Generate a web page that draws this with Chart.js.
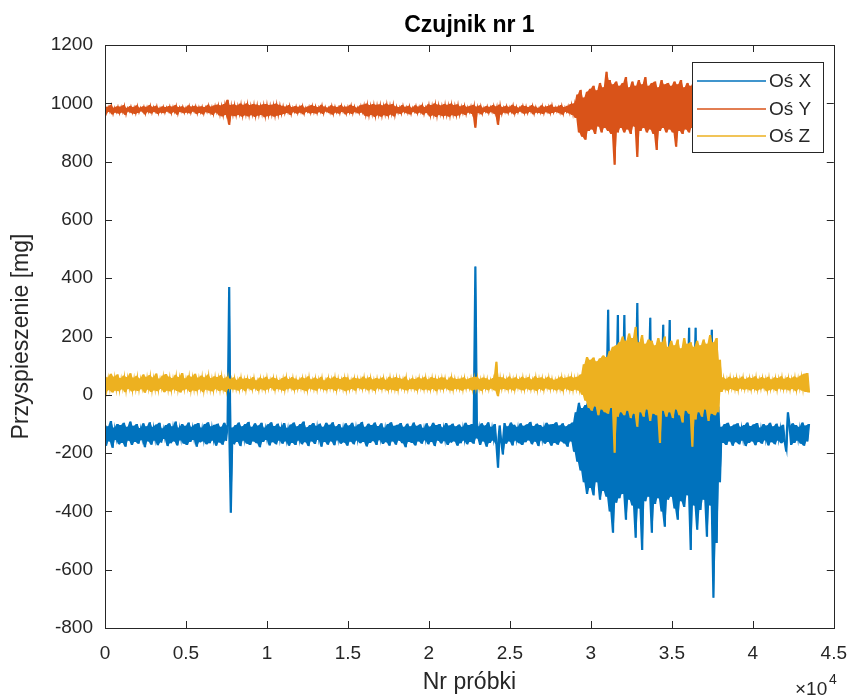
<!DOCTYPE html>
<html lang="pl">
<head>
    <meta charset="UTF-8">
    <title>Czujnik nr 1</title>
    <script src="https://cdn.jsdelivr.net/npm/chart.js"></script>
    <style>
        html, body { margin: 0; padding: 0; background: #fff; }
        #czujnik { display: block; }
    </style>
</head>
<body>
    <canvas id="czujnik" width="861" height="700"></canvas>
    <script>
    // numer próbki co 100 próbek, 0 .. 43500
    const krok = 100;
    const liczbaProbek = 436;

    // Oś X (niebieska)
    const osX = [
        -95,-175,-108,-160,-90,-182,-112,-155,-100,-170,
        -104,-165,-96,-178,-110,-158,-92,-172,-106,-162,
        -100,-168,-114,-156,-98,-180,-108,-160,-94,-171,
        -110,-158,-102,-173,-96,-164,-115,-152,-104,-176,
        -98,-166,-108,-160,-92,-174,-112,-157,-100,-168,
        -106,-172,-95,-162,-110,-155,-101,-178,-97,-163,
        -112,-160,-100,-170,-94,-166,-108,-158,-103,-175,
        -99,-164,-110,-171,-96,-158,-105,370,-405,-112,
        -170,-104,-162,-95,-176,-108,-158,-100,-168,-93,
        -172,-110,-160,-98,-166,-105,-180,-96,-162,-112,
        -155,-101,-174,-94,-163,-107,-170,-99,-158,-110,
        -168,-97,-160,-113,-175,-102,-165,-95,-172,-108,
        -158,-100,-170,-92,-163,-111,-176,-104,-160,-97,
        -169,-106,-155,-99,-178,-110,-162,-96,-171,-103,
        -160,-94,-173,-108,-157,-100,-168,-112,-164,-98,
        -175,-105,-161,-96,-170,-109,-158,-101,-166,-93,
        -162,-110,-177,-99,-165,-104,-159,-95,-172,-107,
        -156,-98,-169,-112,-163,-100,-175,-94,-160,-106,
        -171,-103,-158,-97,-166,-110,-180,-99,-162,-108,
        -165,-95,-174,-106,-160,-101,-168,-113,-157,-98,
        -170,-109,-162,-96,-176,-104,-158,-100,-167,-111,
        -159,-97,-172,-105,-164,-99,-160,-108,-175,-102,
        -166,-110,-158,-96,-170,-104,-162,-100,-168,440,
        -150,-108,-172,-98,-160,-105,-178,-94,-165,-110,
        -158,-100,-170,-250,-105,-163,-205,-97,-168,-108,
        -160,-95,-174,-103,-158,-110,-166,-98,-172,-106,
        -163,-101,-157,-93,-170,-107,-161,-99,-176,-104,
        -158,-110,-168,-96,-162,-102,-175,-100,-165,-94,
        -171,-105,-160,-98,-167,-108,-178,-101,-160,-95,
        -195,-60,-230,-27,-260,-45,-300,-35,-340,-20,
        -320,-15,-345,-30,-300,-10,-360,-25,-330,-5,
        -350,292,-400,-5,-473,-20,-370,274,-355,-15,
        -340,274,-429,-10,-360,60,-380,-5,-490,315,
        -390,0,-532,-15,-365,40,-350,264,-473,-10,
        -375,80,-355,-20,-400,240,-453,-5,-360,257,
        -350,-15,-390,30,-429,-10,-365,-25,-385,0,
        -345,230,-532,-20,-380,230,-463,-10,-395,-5,
        -360,60,-487,-15,-380,223,-696,-30,-508,-40,
        -300,-110,-165,-100,-172,-96,-160,-108,-175,-102,
        -163,-98,-170,-110,-158,-104,-176,-95,-165,-107,
        -160,-101,-173,-97,-162,-112,-168,-100,-157,-105,
        -174,-96,-163,-108,-170,-99,-158,-110,-166,-103,
        -161,-195,-60,-106,-172,-98,-165,-104,-158,-110,
        -168,-95,-175,-105,-160,-100
    ];

    // Oś Y (pomarańczowa)
    const osY = [
        992,965,988,970,995,962,986,968,990,964,
        989,968,994,960,985,971,991,966,987,963,
        993,967,986,972,990,962,988,969,994,965,
        988,970,992,963,985,968,990,966,987,971,
        991,964,989,969,994,961,987,970,990,966,
        986,968,993,965,989,971,992,963,988,967,
        990,962,987,969,995,966,989,960,993,968,
        996,958,993,955,998,960,1012,926,994,957,
        997,956,993,960,999,954,995,958,1000,955,
        994,959,998,953,996,957,993,960,997,952,
        998,956,994,958,996,954,999,957,995,960,
        992,963,989,967,994,960,987,969,991,964,
        988,968,993,962,986,970,990,965,994,967,
        991,964,987,969,995,963,989,971,986,966,
        993,961,990,968,987,964,994,970,988,962,
        989,967,995,963,991,969,986,965,993,968,
        996,957,999,955,994,960,998,953,995,958,
        997,954,993,959,999,956,995,961,998,955,
        990,966,987,963,994,969,988,965,992,962,
        986,970,993,964,989,968,995,961,987,967,
        997,955,994,958,1000,953,996,960,993,956,
        998,957,995,954,999,959,994,956,997,958,
        990,964,994,960,988,968,992,963,995,916,
        989,967,993,962,986,970,991,965,988,969,
        994,963,990,926,996,961,987,968,992,965,
        988,969,995,962,990,967,986,971,993,964,
        991,965,987,970,994,962,989,968,985,966,
        993,963,988,969,991,964,996,967,987,970,
        989,966,994,961,987,970,992,965,998,960,
        1000,950,1030,900,1046,885,1020,875,1040,905,
        1050,910,1060,895,1045,920,1070,900,1055,915,
        1108,905,1080,895,1065,789,1075,900,1060,915,
        1070,900,1090,910,1055,895,1075,920,1060,816,
        1080,905,1065,915,1090,900,1060,910,1070,895,
        1075,840,1055,905,1080,915,1065,900,1070,910,
        1060,900,1075,851,1065,905,1080,895,1055,910,
        1070,900,1060,915,1075,890,1065,905,1080,880,
        1055,910,1070,895,1060,905,1075,870,1050,900,
        990,960,987,966,994,970,989,962,992,968,
        964,988,969,993,961,990,967,986,971,995,
        963,989,968,992,965,987,970,994,962,990,
        966,985,969,993,964,991,968,988,963,994,
        970,987,962,990,967,995,965,988,969,992,
        964,989,968,993,962,990
    ];

    // Oś Z (żółta)
    const osZ = [
        68,10,60,16,72,8,63,14,70,12,
        58,18,66,9,61,20,74,11,59,15,
        65,13,57,19,70,7,62,17,68,10,
        60,15,73,12,56,20,66,9,71,14,
        63,11,58,18,69,13,61,8,75,16,
        57,19,67,10,62,15,72,12,59,18,
        66,9,60,17,70,14,58,11,64,19,
        61,13,68,16,57,10,63,20,55,18,
        60,17,52,14,62,20,55,12,58,22,
        54,16,61,21,50,13,59,19,56,15,
        62,18,53,23,60,14,57,20,51,17,
        58,13,63,19,54,22,61,15,56,18,
        52,20,60,16,57,12,64,21,53,17,
        59,14,55,22,62,18,50,15,60,20,
        56,19,63,13,58,21,54,17,61,12,
        60,16,52,20,59,14,57,23,55,18,
        63,21,56,15,61,19,53,13,58,22,
        55,17,60,20,52,14,62,18,57,16,
        61,13,58,22,55,17,63,15,50,20,
        57,19,54,14,60,21,56,16,62,18,
        53,15,61,20,58,12,55,19,60,17,
        59,22,52,16,63,14,57,20,54,18,
        56,14,60,19,53,21,58,15,61,17,
        62,18,55,13,59,20,57,16,52,21,
        58,15,113,-5,61,18,60,20,55,16,
        63,19,56,14,60,22,54,17,62,15,
        57,21,61,16,53,18,64,13,58,20,
        60,14,55,22,62,17,57,19,52,15,
        56,18,63,12,58,21,60,16,64,13,
        59,17,62,14,70,0,105,-20,130,-45,
        120,-55,128,-40,115,-70,125,-50,135,-60,
        130,-65,150,-45,165,-199,170,-75,180,-60,
        200,-70,185,-55,210,-80,195,-65,233,-110,
        180,-60,205,-75,175,-50,190,-90,185,-65,
        170,-70,195,-165,180,-55,200,-75,165,-60,
        185,-80,170,-50,190,-70,160,-95,195,-55,
        175,-65,180,-178,165,-85,185,-60,170,-75,
        190,-50,175,-90,205,-65,180,-70,195,-60,
        120,10,60,18,55,14,62,20,57,16,
        61,13,56,21,63,17,54,19,60,15,
        58,20,64,14,55,18,61,22,57,12,
        62,16,53,19,60,13,58,21,64,17,
        55,18,61,15,57,20,63,12,59,19,
        66,14,72,10,75,8
    ];

    const nrProbki = Array.from({ length: liczbaProbek }, (_, i) => i * krok);

    const serie = ['Oś X', 'Oś Y', 'Oś Z'];
    const kolory = ['#0072BD', '#D95319', '#EDB120'];
    const yTicks = [-800, -600, -400, -200, 0, 200, 400, 600, 800, 1000, 1200];

    const czcionka = '"Liberation Sans", Arial, sans-serif';
    const ciemny = '#262626';

    // zakres, który odcinek łamanej zajmuje między kolejnymi próbkami
    // (gęsty sygnał rysuje się jako pełne pasmo)
    function gorna(v) { return v.map((y, k) => Math.max(y, v[Math.min(k + 1, v.length - 1)])); }
    function dolna(v) { return v.map((y, k) => Math.min(y, v[Math.min(k + 1, v.length - 1)])); }

    const zbiory = [];
    [osX, osY, osZ].forEach((dane, i) => {
        const kol = kolory[i];
        const kolejnosc = 3 - i;
        zbiory.push({ label: serie[i] + ' max', data: gorna(dane), borderWidth: 0,
            borderColor: kol, backgroundColor: kol, pointRadius: 0, fill: false, order: kolejnosc });
        zbiory.push({ label: serie[i] + ' min', data: dolna(dane), borderWidth: 0,
            borderColor: kol, backgroundColor: kol, pointRadius: 0, fill: '-1', order: kolejnosc });
        zbiory.push({ label: serie[i], data: dane, borderWidth: 1.2,
            borderColor: kol, backgroundColor: kol, pointRadius: 0, fill: false, order: kolejnosc });
    });

    // ramka osi, kreski podziałki do środka, legenda, tytuł i mnożnik x10^4
    const matlabStyle = {
        id: 'matlabStyle',
        afterDraw: (chart) => {
            const ctx = chart.ctx;
            const a = chart.chartArea;
            const xs = chart.scales.x;
            const ys = chart.scales.y;
            ctx.save();

            ctx.strokeStyle = ciemny;
            ctx.lineWidth = 1;
            ctx.beginPath();
            xs.ticks.forEach((t) => {
                const px = Math.round(xs.getPixelForValue(t.value)) + 0.5;
                ctx.moveTo(px, a.bottom); ctx.lineTo(px, a.bottom - 7);
                ctx.moveTo(px, a.top); ctx.lineTo(px, a.top + 7);
            });
            ys.ticks.forEach((t) => {
                const py = Math.round(ys.getPixelForValue(t.value)) + 0.5;
                ctx.moveTo(a.left, py); ctx.lineTo(a.left + 7, py);
                ctx.moveTo(a.right, py); ctx.lineTo(a.right - 7, py);
            });
            ctx.stroke();
            ctx.strokeRect(Math.round(a.left) + 0.5, Math.round(a.top) + 0.5,
                Math.round(a.right - a.left), Math.round(a.bottom - a.top));

            // tytuł nad osiami
            ctx.fillStyle = '#000';
            ctx.font = 'bold 23px ' + czcionka;
            ctx.textAlign = 'center';
            ctx.textBaseline = 'alphabetic';
            ctx.fillText('Czujnik nr 1', (a.left + a.right) / 2, 32);

            // x10^4
            ctx.fillStyle = ciemny;
            ctx.textAlign = 'left';
            ctx.font = '19px ' + czcionka;
            ctx.fillText('\u00d710', 795, 695);
            ctx.font = '14px ' + czcionka;
            ctx.fillText('4', 829, 684);

            // legenda
            const lx = 692, ly = 62, lw = 131, lh = 90;
            ctx.fillStyle = '#fff';
            ctx.fillRect(lx, ly, lw, lh);
            ctx.strokeStyle = ciemny;
            ctx.lineWidth = 1;
            ctx.strokeRect(lx + 0.5, ly + 0.5, lw, lh);
            ctx.font = '19px ' + czcionka;
            ctx.textBaseline = 'middle';
            serie.forEach((nazwa, i) => {
                const yy = Math.round(ly + 19 + i * 27.5);
                ctx.strokeStyle = kolory[i];
                ctx.lineWidth = 1.5;
                ctx.beginPath();
                ctx.moveTo(lx + 5, yy);
                ctx.lineTo(lx + 74, yy);
                ctx.stroke();
                ctx.fillStyle = ciemny;
                ctx.fillText(nazwa, lx + 77, yy + 1);
            });
            ctx.restore();
        }
    };

    const ctx = document.getElementById('czujnik').getContext('2d');
    const wykres = new Chart(ctx, {
        type: 'line',
        data: {
            labels: nrProbki,
            datasets: zbiory
        },
        options: {
            responsive: false,
            animation: false,
            events: [],
            layout: { padding: { top: 45, right: 18, left: 0, bottom: 0 } },
            elements: { line: { tension: 0 } },
            plugins: {
                legend: { display: false },
                title: { display: false },
                tooltip: { enabled: false },
                filler: { propagate: false }
            },
            scales: {
                x: {
                    type: 'linear',
                    min: 0,
                    max: 45000,
                    grid: { display: false, drawTicks: false },
                    border: { display: false },
                    ticks: {
                        stepSize: 5000,
                        padding: 14,
                        color: ciemny,
                        font: { family: czcionka, size: 19 },
                        maxRotation: 0,
                        callback: (v) => String(v / 10000)
                    },
                    title: {
                        display: true,
                        text: 'Nr próbki',
                        color: ciemny,
                        font: { family: czcionka, size: 23 },
                        padding: { top: 0, bottom: 4 }
                    },
                    afterFit: (s) => { s.height = 72; }
                },
                y: {
                    min: -800,
                    max: 1200,
                    grid: { display: false, drawTicks: false },
                    border: { display: false },
                    afterBuildTicks: (s) => { s.ticks = yTicks.map((v) => ({ value: v })); },
                    ticks: {
                        padding: 12,
                        color: ciemny,
                        font: { family: czcionka, size: 19 },
                        callback: (v) => String(v)
                    },
                    title: {
                        display: true,
                        text: 'Przyspieszenie [mg]',
                        color: ciemny,
                        font: { family: czcionka, size: 23 },
                        padding: { top: 8, bottom: 0 }
                    },
                    afterFit: (s) => { s.width = 105; }
                }
            }
        },
        plugins: [matlabStyle]
    });
    </script>
</body>
</html>
